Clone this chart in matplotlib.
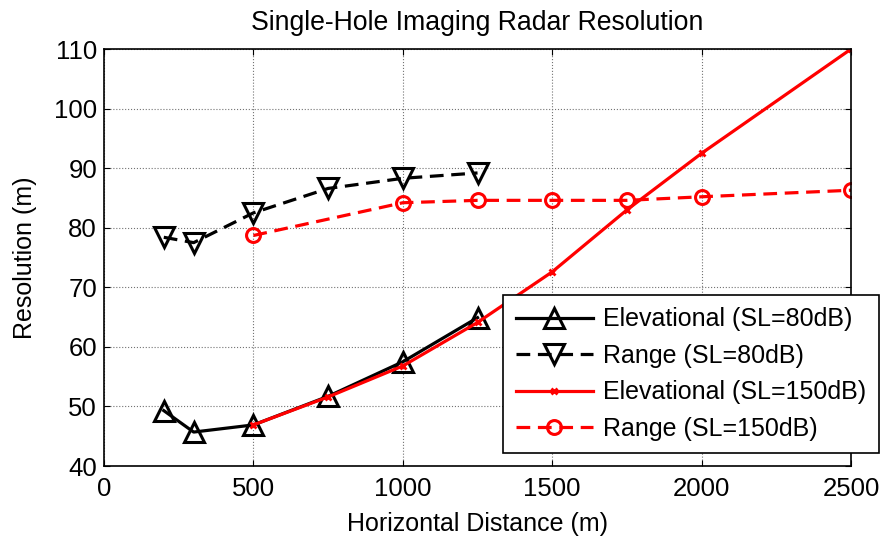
import matplotlib
matplotlib.use('Agg')
import matplotlib.pyplot as plt

plt.rcParams['font.family'] = ['Liberation Sans', 'DejaVu Sans']

# data
x80 = [200, 300, 500, 750, 1000, 1250]
elev80 = [49.3, 45.7, 46.9, 51.7, 57.5, 64.9]
range80 = [78.4, 77.5, 82.5, 86.6, 88.3, 89.2]

x150e = [500, 750, 1000, 1250, 1500, 1750, 2000, 2500]
elev150 = [46.9, 51.6, 56.8, 64.1, 72.6, 83.0, 92.5, 110.0]
x150r = [500, 1000, 1250, 1500, 1750, 2000, 2500]
range150 = [78.7, 84.2, 84.6, 84.6, 84.6, 85.2, 86.3]

fig = plt.figure(figsize=(8.83, 5.39), dpi=100)
ax = fig.add_axes([0.1178, 0.1354, 0.8460, 0.7736])

ax.plot(x80, elev80, 'k-', marker='^', ms=14, mew=2.2, mfc='none', lw=2.3,
        label='Elevational (SL=80dB)')
ax.plot(x80, range80, 'k--', marker='v', ms=14, mew=2.2, mfc='none', lw=2.3,
        dashes=(4.3, 2.4), label='Range (SL=80dB)')
ax.plot(x150e, elev150, 'r-', marker='x', ms=5, mew=2, lw=2.3,
        label='Elevational (SL=150dB)')
ax.plot(x150r, range150, 'r--', marker='o', ms=10, mew=2.2, mfc='none', lw=2.3,
        dashes=(4.3, 2.4), label='Range (SL=150dB)')

ax.set_xlim(0, 2500)
ax.set_ylim(40, 110)
ax.set_xticks([0, 500, 1000, 1500, 2000, 2500])
ax.set_yticks(range(40, 111, 10))
ax.tick_params(direction='in', length=4, top=True, right=True, labelsize=18.5)
ax.tick_params(axis='x', pad=8)
ax.tick_params(axis='y', pad=5)
ax.grid(True, color='0.45', linestyle=':', linewidth=0.8)
for s in ax.spines.values():
    s.set_linewidth(1.2)

ax.set_title('Single-Hole Imaging Radar Resolution', fontsize=19.2, pad=14)
ax.set_xlabel('Horizontal Distance (m)', fontsize=18, labelpad=8)
ax.set_ylabel('Resolution (m)', fontsize=18, labelpad=12)

leg = ax.legend(loc='upper left', bbox_to_anchor=(0.5697, 0.4527),
                bbox_transform=fig.transFigure, fontsize=18, numpoints=1,
                fancybox=False, framealpha=1, edgecolor='k', handlelength=3.1,
                borderpad=0.5, labelspacing=0.5, handletextpad=0.4,
                borderaxespad=0)
leg.get_frame().set_linewidth(1.2)

fig.savefig('out.png', dpi=100)
